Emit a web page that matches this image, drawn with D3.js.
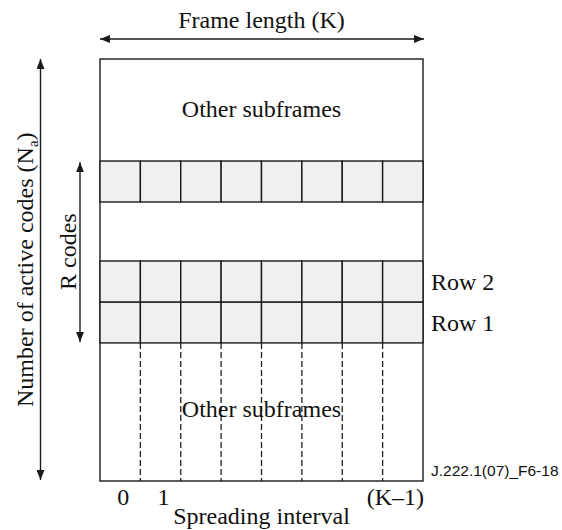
<!DOCTYPE html>
<html>
<head>
<meta charset="utf-8">
<script src="https://cdn.jsdelivr.net/npm/d3@7"></script>
<style>
  html, body { margin: 0; padding: 0; background: #fff; }
  svg { display: block; }
  .serif { font-family: "Liberation Serif", "Times New Roman", serif; fill: #111; }
  .sans { font-family: "Liberation Sans", Arial, sans-serif; fill: #111; }
</style>
</head>
<body>
<svg id="chart" width="562" height="530"></svg>
<script>
// ---- Data ----
const columns = [0, 1, 2, 3, 4, 5, 6, 7];           // spreading intervals 0 .. K-1
const frameLength = 8;                               // K (columns)
const rowNames = ["Row 1", "Row 2", "Row R"];        // code rows in the subframe
const rowStart = [0, 1, 3.44];                       // code position of each row (row units)
const rowLabels = ["Row 1", "Row 2"];                // labelled rows
const frameCodeExtent = [-3.37, 6.93];               // Na extent of the frame (row units)
const rCodeExtent = [0, 4.41];                       // R codes span
const tickLabels = [{ col: 0, text: "0" }, { col: 1, text: "1" }, { col: 7, text: "(K\u20131)" }];
const otherLabel = "Other subframes";
const title = "Frame length (K)";
const xTitle = "Spreading interval";
const yTitle = "Number of active codes (N";
const rTitle = "R codes";
const figId = "J.222.1(07)_F6-18";

// ---- Scales ----
const svg = d3.select("#chart");
const x = d3.scaleLinear().domain([0, frameLength]).range([100, 423]);
const y = d3.scaleLinear().domain(frameCodeExtent).range([481, 59]);
const ink = "#1a1a1a";

// arrow marker
const defs = svg.append("defs");
defs.append("marker").attr("id", "ah")
  .attr("viewBox", "0 0 10 8").attr("refX", 10).attr("refY", 4)
  .attr("markerWidth", 10).attr("markerHeight", 8).attr("markerUnits", "userSpaceOnUse")
  .attr("orient", "auto-start-reverse")
  .append("path").attr("d", "M0,0L10,4L0,8Z").attr("fill", ink);

// frame box
svg.append("rect")
  .attr("x", x(0)).attr("y", y(frameCodeExtent[1]))
  .attr("width", x(frameLength) - x(0))
  .attr("height", y(frameCodeExtent[0]) - y(frameCodeExtent[1]))
  .attr("fill", "#fff").attr("stroke", ink).attr("stroke-width", 1.4);

// dashed column separators in lower "other subframes"
svg.append("g").selectAll("line").data(columns.slice(1)).join("line")
  .attr("x1", d => x(d)).attr("x2", d => x(d))
  .attr("y1", y(0)).attr("y2", y(frameCodeExtent[0]))
  .attr("stroke", "#222").attr("stroke-width", 1.3).attr("stroke-dasharray", "6,3");

// grid rows
const cells = [];
rowStart.forEach(r => columns.forEach(c => cells.push({ r, c })));
svg.append("g").selectAll("rect").data(cells).join("rect")
  .attr("x", d => x(d.c)).attr("y", d => y(d.r + 1))
  .attr("width", x(1) - x(0)).attr("height", y(0) - y(1))
  .attr("fill", "#f0f0f2").attr("stroke", ink).attr("stroke-width", 1.4);

// arrows
svg.append("line")
  .attr("x1", x(0)).attr("x2", x(frameLength) + 1).attr("y1", 39).attr("y2", 39)
  .attr("stroke", ink).attr("stroke-width", 1.4)
  .attr("marker-start", "url(#ah)").attr("marker-end", "url(#ah)");
svg.append("line")
  .attr("x1", 40.5).attr("x2", 40.5).attr("y1", y(frameCodeExtent[1])).attr("y2", y(frameCodeExtent[0]) - 1)
  .attr("stroke", ink).attr("stroke-width", 1.4)
  .attr("marker-start", "url(#ah)").attr("marker-end", "url(#ah)");
svg.append("line")
  .attr("x1", 80).attr("x2", 80).attr("y1", y(rCodeExtent[1])).attr("y2", y(rCodeExtent[0]) - 1)
  .attr("stroke", ink).attr("stroke-width", 1.4)
  .attr("marker-start", "url(#ah)").attr("marker-end", "url(#ah)");

// texts
const fs = 24;
svg.append("text").attr("class", "serif").attr("x", x(frameLength / 2)).attr("y", 28)
  .attr("text-anchor", "middle").attr("font-size", fs).text(title);
svg.append("text").attr("class", "serif").attr("x", x(frameLength / 2)).attr("y", 117)
  .attr("text-anchor", "middle").attr("font-size", fs).text(otherLabel);
svg.append("text").attr("class", "serif").attr("x", x(frameLength / 2)).attr("y", 417)
  .attr("text-anchor", "middle").attr("font-size", fs).text(otherLabel);

svg.append("g").selectAll("text").data(rowLabels).join("text")
  .attr("class", "serif").attr("font-size", fs)
  .attr("x", x(frameLength) + 8)
  .attr("y", (d, i) => y(rowStart[i] + 0.5) + 8.5)
  .text(d => d);

svg.append("g").selectAll("text").data(tickLabels).join("text")
  .attr("class", "serif").attr("font-size", fs)
  .attr("x", d => d.col === columns[columns.length - 1] ? x(d.col + 1) + 1 : x(d.col + 0.5) + 3)
  .attr("text-anchor", d => d.col === columns[columns.length - 1] ? "end" : "middle")
  .attr("y", 505)
  .text(d => d);

svg.selectAll("g text").filter(function(d) { return d && d.text; }).text(d => d.text);

svg.append("text").attr("class", "serif").attr("x", x(frameLength / 2)).attr("y", 524)
  .attr("text-anchor", "middle").attr("font-size", fs).text(xTitle);

const yt = svg.append("text").attr("class", "serif").attr("font-size", fs)
  .attr("transform", "translate(33,407) rotate(-90)").attr("text-anchor", "start");
yt.append("tspan").text(yTitle);
yt.append("tspan").attr("font-size", 15).attr("dy", 5).text("a");
yt.append("tspan").attr("dy", -5).text(")");

svg.append("text").attr("class", "serif").attr("font-size", fs)
  .attr("transform", "translate(76,290) rotate(-90)").attr("text-anchor", "start").text(rTitle);

svg.append("text").attr("class", "sans").attr("font-size", 15.5)
  .attr("x", 431).attr("y", 476).text(figId);
</script>
</body>
</html>
